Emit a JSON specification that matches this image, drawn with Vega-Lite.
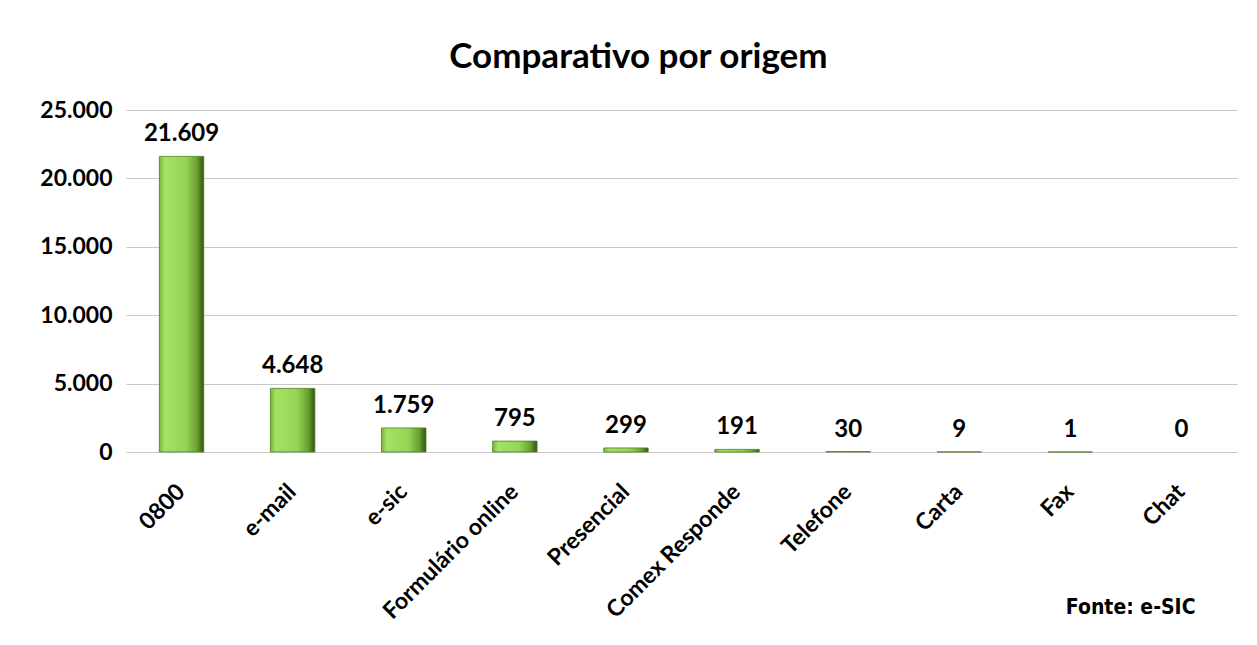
{
  "$schema": "https://vega.github.io/schema/vega-lite/v6.json",
  "autosize": "none",
  "width": 1111,
  "height": 342,
  "padding": {"left": 126, "top": 110, "right": 20, "bottom": 193},
  "background": "white",
  "config": {
    "locale": {"number": {"decimal": ",", "thousands": ".", "grouping": [3], "currency": ["R$", ""]}},
    "view": {"stroke": null},
    "font": "Lato"
  },
  "title": {
    "text": "Comparativo por origem",
    "font": "Lato",
    "fontSize": 35,
    "fontWeight": "bold",
    "color": "#000000",
    "anchor": "middle",
    "frame": "bounds",
    "offset": 24
  },
  "data": {
    "values": [
      {"origem": "0800", "total": 21609},
      {"origem": "e-mail", "total": 4648},
      {"origem": "e-sic", "total": 1759},
      {"origem": "Formulário online", "total": 795},
      {"origem": "Presencial", "total": 299},
      {"origem": "Comex Responde", "total": 191},
      {"origem": "Telefone", "total": 30},
      {"origem": "Carta", "total": 9},
      {"origem": "Fax", "total": 1},
      {"origem": "Chat", "total": 0}
    ]
  },
  "encoding": {
    "x": {
      "field": "origem",
      "type": "nominal",
      "sort": null,
      "scale": {"paddingInner": 0, "paddingOuter": 0},
      "axis": {
        "title": "Fonte: e-SIC",
        "titleFont": "DejaVu Sans Condensed",
        "titleFontSize": 21,
        "titleFontWeight": "bold",
        "titleColor": "#000000",
        "titleAnchor": "end",
        "titleAlign": "right",
        "titleBaseline": "alphabetic",
        "titleX": 1069,
        "titleY": 161,
        "labelAngle": -45,
        "labelFont": "Lato",
        "labelFontSize": 23,
        "labelFontWeight": "bold",
        "labelColor": "#000000",
        "labelPadding": 28,
        "labelOffset": -8,
        "labelLimit": 300,
        "domain": false,
        "ticks": false,
        "grid": false
      }
    },
    "y": {
      "field": "total",
      "type": "quantitative",
      "scale": {"domain": [0, 25000]},
      "axis": {
        "title": null,
        "values": [0, 5000, 10000, 15000, 20000, 25000],
        "format": ",d",
        "labelFont": "Lato",
        "labelFontSize": 23,
        "labelFontWeight": "bold",
        "labelColor": "#000000",
        "labelPadding": 14,
        "domain": false,
        "ticks": false,
        "grid": true,
        "gridColor": "#c8c8c8",
        "gridWidth": 1.2
      }
    }
  },
  "layer": [
    {
      "mark": {
        "type": "bar",
        "width": {"band": 0.4},
        "color": {
          "gradient": "linear",
          "x1": 0, "x2": 1, "y1": 0, "y2": 0,
          "stops": [
            {"offset": 0, "color": "#78b43a"},
            {"offset": 0.12, "color": "#a4e262"},
            {"offset": 0.6, "color": "#94d455"},
            {"offset": 0.85, "color": "#6a9f30"},
            {"offset": 1, "color": "#2f5410"}
          ]
        },
        "stroke": "#4f7d22",
        "strokeWidth": 0.8
      },
      "encoding": {
        "opacity": {"condition": {"test": "datum.total == 0", "value": 0}, "value": 1}
      }
    },
    {
      "mark": {
        "type": "text",
        "baseline": "bottom",
        "dy": -10,
        "font": "Lato",
        "fontSize": 24,
        "fontWeight": "bold",
        "color": "#000000"
      },
      "encoding": {
        "text": {"field": "total", "type": "quantitative", "format": ",d"}
      }
    }
  ]
}
